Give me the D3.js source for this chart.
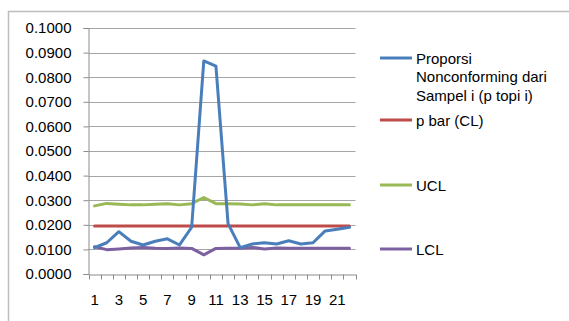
<!DOCTYPE html>
<html>
<head>
<meta charset="utf-8">
<script src="https://cdn.jsdelivr.net/npm/d3@7"></script>
<style>
  html, body { margin: 0; padding: 0; background: #fff; }
  svg { display: block; }
  text { font-family: "Liberation Sans", Arial, sans-serif; fill: #000; }
</style>
</head>
<body>
<svg id="chart" width="569" height="321"></svg>
<script>
const categories = d3.range(1, 23).map(String);
const tickLabels = ["1","3","5","7","9","11","13","15","17","19","21"];
const yTicks = [0, 0.01, 0.02, 0.03, 0.04, 0.05, 0.06, 0.07, 0.08, 0.09, 0.1];

const pHat = [0.0107, 0.0127, 0.0172, 0.0133, 0.0118, 0.0133, 0.0143, 0.0118, 0.0190, 0.0866, 0.0845,
              0.0205, 0.0107, 0.0122, 0.0127, 0.0122, 0.0135, 0.0122, 0.0127, 0.0175, 0.0182, 0.0190];
const pBar = categories.map(() => 0.0195);
const ucl = [0.0277, 0.0287, 0.0284, 0.0281, 0.0281, 0.0284, 0.0286, 0.0281, 0.0286, 0.0311, 0.0286,
             0.0286, 0.0285, 0.0281, 0.0286, 0.0281, 0.0281, 0.0281, 0.0281, 0.0281, 0.0281, 0.0281];
const lcl = [0.0111, 0.0099, 0.0102, 0.0106, 0.0108, 0.0105, 0.0104, 0.0106, 0.0104, 0.0078, 0.0104,
             0.0105, 0.0105, 0.0108, 0.0102, 0.0106, 0.0105, 0.0105, 0.0105, 0.0105, 0.0105, 0.0105];

const seriesNames = ["Proporsi Nonconforming dari Sampel i (p topi i)", "p bar (CL)", "UCL", "LCL"];
const seriesColors = ["#4A7EBB", "#BE4B48", "#98B954", "#7D60A0"];
const seriesData = [pHat, pBar, ucl, lcl];

const svg = d3.select("#chart");

// outer chart border
svg.append("path")
  .attr("d", "M8.5,321 L8.5,11.5 L569,11.5")
  .attr("fill", "none").attr("stroke", "#bdbdbd").attr("stroke-width", 1.5);

const plotLeft = 88.5, plotRight = 355.5, plotTop = 28, plotBottom = 274;
const x = d3.scaleBand().domain(categories).range([plotLeft, plotRight]);
const y = d3.scaleLinear().domain([0, 0.1]).range([plotBottom, plotTop]);

// gridlines
svg.append("g").selectAll("line").data(yTicks.slice(1)).join("line")
  .attr("x1", plotLeft).attr("x2", plotRight)
  .attr("y1", d => Math.round(y(d)) + 0.5).attr("y2", d => Math.round(y(d)) + 0.5)
  .attr("stroke", "#a6a6a6").attr("stroke-width", 1);

// y axis
const yAxis = svg.append("g").attr("transform", `translate(${plotLeft},0)`)
  .call(d3.axisLeft(y).tickValues(yTicks).tickFormat(d3.format(".4f")).tickSize(5).tickPadding(12));
yAxis.select(".domain").attr("stroke", "#8c8c8c");
yAxis.selectAll(".tick line").attr("stroke", "#8c8c8c");
yAxis.selectAll(".tick text").style("font-size", "15px").attr("fill", "#000")
  .attr("font-family", "'Liberation Sans', Arial, sans-serif");

// x axis
const xAxis = svg.append("g").attr("transform", `translate(0,${Math.round(plotBottom) + 0.5})`)
  .call(d3.axisBottom(x).tickSize(0).tickPadding(20)
    .tickFormat(d => tickLabels.includes(d) ? d : ""));
xAxis.select(".domain").attr("stroke", "#8c8c8c");
xAxis.selectAll(".tick text").style("font-size", "15px").attr("fill", "#000")
  .attr("font-family", "'Liberation Sans', Arial, sans-serif");
// category boundary tick marks
svg.append("g").selectAll("line").data(d3.range(categories.length + 1)).join("line")
  .attr("x1", i => Math.round(plotLeft + i * x.step()) + 0.5)
  .attr("x2", i => Math.round(plotLeft + i * x.step()) + 0.5)
  .attr("y1", Math.round(plotBottom) + 0.5).attr("y2", Math.round(plotBottom) + 5.5)
  .attr("stroke", "#8c8c8c");

// lines
const line = d3.line()
  .x((d, i) => x(categories[i]) + x.bandwidth() / 2)
  .y(d => y(d));
const drawOrder = [2, 3, 1, 0];
drawOrder.forEach(k => {
  svg.append("path").datum(seriesData[k])
    .attr("d", line).attr("fill", "none")
    .attr("stroke", seriesColors[k]).attr("stroke-width", 3)
    .attr("stroke-linejoin", "round").attr("stroke-linecap", "round");
});

// legend
const legendRows = [
  { lines: ["Proporsi", "Nonconforming dari", "Sampel i (p topi i)"], y: 58 },
  { lines: ["p bar (CL)"], y: 120 },
  { lines: ["UCL"], y: 185 },
  { lines: ["LCL"], y: 249 }
];
legendRows.forEach((r, k) => {
  const g = svg.append("g");
  g.append("line").attr("x1", 380).attr("x2", 412).attr("y1", r.y).attr("y2", r.y)
    .attr("stroke", seriesColors[k]).attr("stroke-width", 3);
  r.lines.forEach((t, j) => {
    g.append("text").attr("x", 416).attr("y", r.y + j * 18.5 + 5.5)
      .style("font-size", "15px").text(t);
  });
});
</script>
</body>
</html>
